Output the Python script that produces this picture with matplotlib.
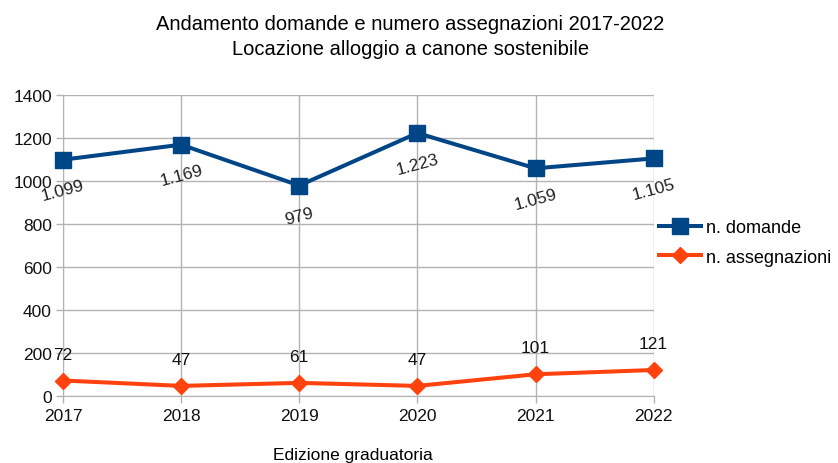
import matplotlib.pyplot as plt

# dati
anni = [2017, 2018, 2019, 2020, 2021, 2022]
domande = [1099, 1169, 979, 1223, 1059, 1105]
assegnazioni = [72, 47, 61, 47, 101, 121]
etichette_domande = ["1.099", "1.169", "979", "1.223", "1.059", "1.105"]

plt.rcParams['font.family'] = ['Liberation Sans', 'DejaVu Sans']

fig = plt.figure(figsize=(8.38, 4.64), dpi=100)
ax = fig.add_axes([0.0752, 0.1444, 0.7048, 0.6487])

blu = '#004586'
arancio = '#ff420e'
grigio = '#b3b3b3'

ax.plot(anni, domande, color=blu, lw=2.9, marker='s', markersize=11.5,
        label='n. domande', clip_on=False, zorder=3)
ax.plot(anni, assegnazioni, color=arancio, lw=2.9, marker='D', markersize=8.5,
        label='n. assegnazioni', clip_on=False, zorder=3)

for x, y, t in zip(anni, domande, etichette_domande):
    ax.annotate(t, (x, y), xytext=(0, -22), textcoords='offset points',
                ha='center', va='center', rotation=15, fontsize=12.5, color='#222222')
for x, y in zip(anni, assegnazioni):
    ax.annotate(str(y), (x, y), xytext=(0, 19), textcoords='offset points',
                ha='center', va='center', fontsize=12.5, color='#111111')

ax.set_xlim(2017, 2022)
ax.set_ylim(0, 1400)
ax.set_yticks(range(0, 1401, 200))
ax.set_xticks(anni)
ax.grid(True, color=grigio, lw=1)
ax.set_axisbelow(True)
for s in ['top', 'right']:
    ax.spines[s].set_visible(False)
for s in ['left', 'bottom']:
    ax.spines[s].set_color(grigio)
ax.tick_params(axis='both', colors=grigio, labelcolor='#111111', labelsize=12.5, length=5, width=1)
ax.tick_params(axis='y', pad=3)
ax.tick_params(axis='x', pad=4)

ax.set_xlabel('Edizione graduatoria', fontsize=12.5)
ax.xaxis.set_label_coords(0.49, -0.168)

fig.suptitle('Andamento domande e numero assegnazioni 2017-2022\nLocazione alloggio a canone sostenibile',
             fontsize=14.5, x=0.49, y=0.968, linespacing=1.4)

ax.legend(loc='center left', bbox_to_anchor=(1.0, 0.51), frameon=False, fontsize=13,
          handlelength=2.3, handletextpad=0.3, labelspacing=0.7, borderaxespad=0.0,
          borderpad=0.3)

fig.savefig('out.png', dpi=100)
